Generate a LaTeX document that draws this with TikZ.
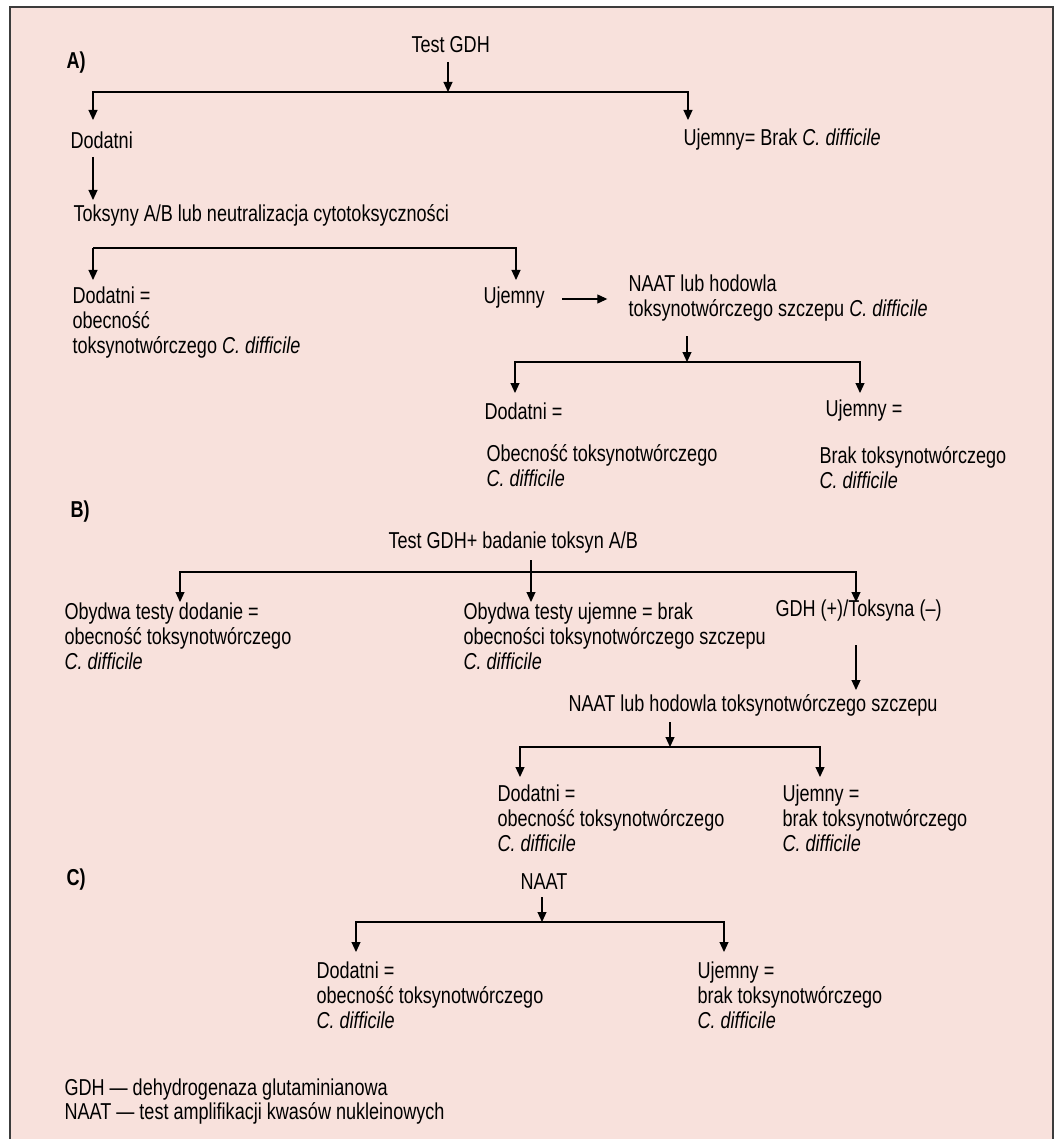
\documentclass[tikz,border=0pt]{standalone}
\usepackage{fontspec}
\setmainfont{Liberation Sans}[FakeStretch=0.785]
\usetikzlibrary{arrows.meta}
\definecolor{boxbg}{RGB}{248,225,220}
\definecolor{boxrule}{RGB}{60,60,60}
\begin{document}
\begin{tikzpicture}[x=1pt,y=-1pt,
  >={Triangle[width=9pt,length=10pt]}, line width=1.1pt,
  txt/.style={anchor=west,inner sep=0pt,align=left,font=\fontsize{23}{25}\selectfont},
  lbl/.style={txt,font=\fontsize{23}{25}\selectfont\bfseries}]
\useasboundingbox (0,0) rectangle (1055,1139);
\fill[boxbg] (10,7) rectangle (1053,1139);
\draw[boxrule,line width=1.5pt] (10,1139) -- (10,7) -- (1053,7) -- (1053,1139);

% A)
\node[lbl] (labA) at (66,63) {A)};
\node[txt] (gdhA) at (411,45) {Test GDH};
\node[txt] (posA) at (70,140) {Dodatni};
\node[txt] (negA) at (683,140) {Ujemny= Brak \textit{C. difficile}};
\node[txt] (toxA) at (73,215) {Toksyny A/B lub neutralizacja cytotoksyczności};
\node[txt] (toxposA) at (72,323) {Dodatni =\\obecność\\toksynotwórczego \textit{C. difficile}};
\node[txt] (toxnegA) at (483,298) {Ujemny};
\node[txt] (naatA) at (628,298.5) {NAAT lub hodowla\\toksynotwórczego szczepu \textit{C. difficile}};
\node[txt] (nposA) at (484,411) {Dodatni =};
\node[txt] (nposA2) at (486,465.5) {Obecność toksynotwórczego\\\textit{C. difficile}};
\node[txt] (nnegA) at (825,411) {Ujemny =};
\node[txt] (nnegA2) at (819,468) {Brak toksynotwórczego\\\textit{C. difficile}};

\coordinate (jA) at (448,92);
\coordinate (jA1) at (93,120);
\coordinate (jA2) at (688,120);
\draw[->] (448,62) -- (jA);
\draw[->] (jA) -| (jA1);
\draw[->] (jA) -| (jA2);
\draw[->] (93,157) -- (93,200);
\coordinate (jB) at (93,248);
\coordinate (jB1) at (93,280);
\coordinate (jB2) at (516,280);
\draw[->] (jB) -- (jB1);
\draw[->] (jB) -| (jB2);
\draw[->] (toxnegA.east) ++(17,1) -- ++(45,0);
\coordinate (jC) at (687,362);
\coordinate (jC1) at (515,393);
\coordinate (jC2) at (860,393);
\draw[->] (687,336) -- (jC);
\draw[->] (jC) -| (jC1);
\draw[->] (jC) -| (jC2);

% B)
\node[lbl] (labB) at (70,512) {B)};
\node[txt] (gdhB) at (388,543) {Test GDH+ badanie toksyn A/B};
\node[txt] (bothpos) at (64,636) {Obydwa testy dodanie =\\obecność toksynotwórczego\\\textit{C. difficile}};
\node[txt] (bothneg) at (463,636) {Obydwa testy ujemne = brak\\obecności toksynotwórczego szczepu\\\textit{C. difficile}};
\node[txt] (mixB) at (775,611) {GDH (+)/Toksyna (–)};
\node[txt] (naatB) at (568,705) {NAAT lub hodowla toksynotwórczego szczepu};
\node[txt] (nposB) at (497,818) {Dodatni =\\obecność toksynotwórczego\\\textit{C. difficile}};
\node[txt] (nnegB) at (782,818) {Ujemny =\\brak toksynotwórczego\\\textit{C. difficile}};

\coordinate (jD) at (531,572);
\coordinate (jD1) at (180,602);
\coordinate (jD2) at (531,602);
\coordinate (jD3) at (856,602);
\draw (jD) -- (531,560);
\draw[->] (jD) -| (jD1);
\draw[->] (jD) -- (jD2);
\draw[->] (jD) -| (jD3);
\draw[->] (856,645) -- (856,690);
\coordinate (jE) at (670,747);
\coordinate (jE1) at (520,777);
\coordinate (jE2) at (820,777);
\draw[->] (670,722) -- (jE);
\draw[->] (jE) -| (jE1);
\draw[->] (jE) -| (jE2);

% C)
\node[lbl] (labC) at (66,880) {C)};
\node[txt] (naatC) at (520,882) {NAAT};
\node[txt] (nposC) at (316,995) {Dodatni =\\obecność toksynotwórczego\\\textit{C. difficile}};
\node[txt] (nnegC) at (697,995) {Ujemny =\\brak toksynotwórczego\\\textit{C. difficile}};

\coordinate (jF) at (542,922);
\coordinate (jF1) at (356,952);
\coordinate (jF2) at (724,952);
\draw[->] (542,897) -- (jF);
\draw[->] (jF) -| (jF1);
\draw[->] (jF) -| (jF2);

\node[txt] (legA) at (64,1090) {GDH — dehydrogenaza glutaminianowa};
\node[txt] (legB) at (64,1113) {NAAT — test amplifikacji kwasów nukleinowych};
\end{tikzpicture}
\end{document}
